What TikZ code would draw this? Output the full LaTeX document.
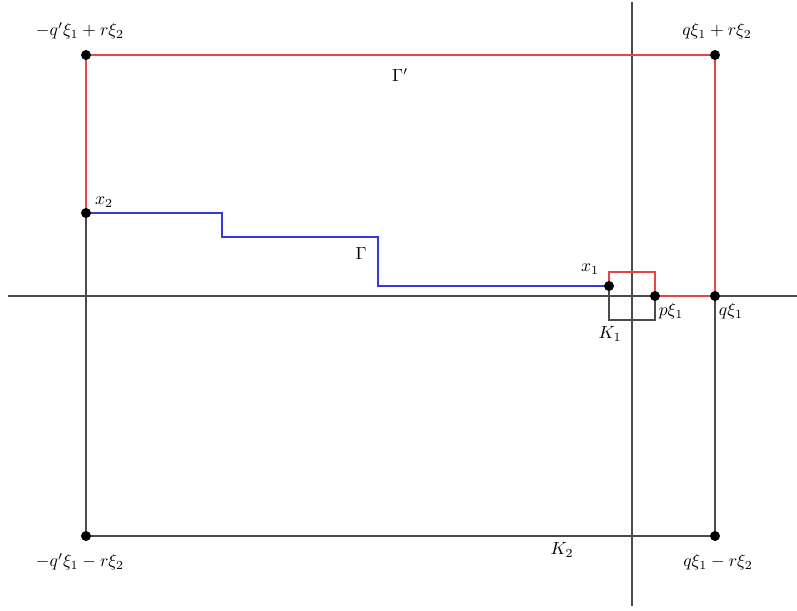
\documentclass[tikz,border=0pt]{standalone}
\usepackage{amsmath}
\usepackage{amssymb}
\usepackage{tikz}
\usetikzlibrary{calc}
\usepackage{color}
\definecolor{rojo}{RGB}{232,70,70}
\definecolor{azul}{RGB}{55,55,225}
\definecolor{gris}{RGB}{75,75,75}

\begin{document}
\begin{tikzpicture}[x=0.02cm,y=-0.02cm,line width=1pt,
  punto/.style={circle,fill=black,inner sep=0pt,minimum size=0.2cm}]
  \useasboundingbox (0,0) rectangle (797,610);

  % Ejes
  \coordinate (ejeI) at (8,296);
  \coordinate (ejeD) at (797,296);
  \coordinate (ejeA) at (632,2);
  \coordinate (ejeB) at (632,606);
  \draw[gris] (ejeI) -- (ejeD);
  \draw[gris] (ejeA) -- (ejeB);

  % Vertices y puntos
  \coordinate (SI) at (86,55);
  \coordinate (SD) at (715,55);
  \coordinate (II) at (86,536);
  \coordinate (ID) at (715,536);
  \coordinate (q1) at (715,296);
  \coordinate (p1) at (655,296);
  \coordinate (x1) at (609,286);
  \coordinate (x2) at (86,213);
  \coordinate (k1) at (609,320);
  \coordinate (k1d) at (655,320);
  \coordinate (r1) at (609,272);
  \coordinate (r1d) at (655,272);

  % Caja K_2 y caja K_1
  \draw[gris] (x2) -- (II) -- (ID) -- (q1);
  \draw[gris] (x1) -- (k1) -- (k1d) -- (p1);

  % Camino Gamma'
  \draw[rojo] (x2) -- (SI) -- (SD) -- (q1) -- (p1) -- (r1d) -- (r1) -- (x1);

  % Camino Gamma
  \draw[azul] (x2) -- (222,213) -- (222,237) -- (378,237) -- (378,286) -- (x1);

  \foreach \p in {SI,SD,II,ID,q1,p1,x1,x2}
    \node[punto] (d\p) at (\p) {};

  % Etiquetas
  \node (lSI) at (80,31) {$-q'\xi_1+r\xi_2$};
  \node (lSD) at (717,31) {$q\xi_1+r\xi_2$};
  \node (lII) at (80,562) {$-q'\xi_1-r\xi_2$};
  \node (lID) at (718,562) {$q\xi_1-r\xi_2$};
  \node (lGp) at (400,75) {$\Gamma'$};
  \node (lG) at (361,253) {$\Gamma$};
  \node (lx2) at (104,202) {$x_2$};
  \node (lx1) at (590,269) {$x_1$};
  \node (lp1) at (671,311) {$p\xi_1$};
  \node (lq1) at (731,311) {$q\xi_1$};
  \node (lK1) at (610,334) {$K_1$};
  \node (lK2) at (562,550) {$K_2$};
\end{tikzpicture}
\end{document}
